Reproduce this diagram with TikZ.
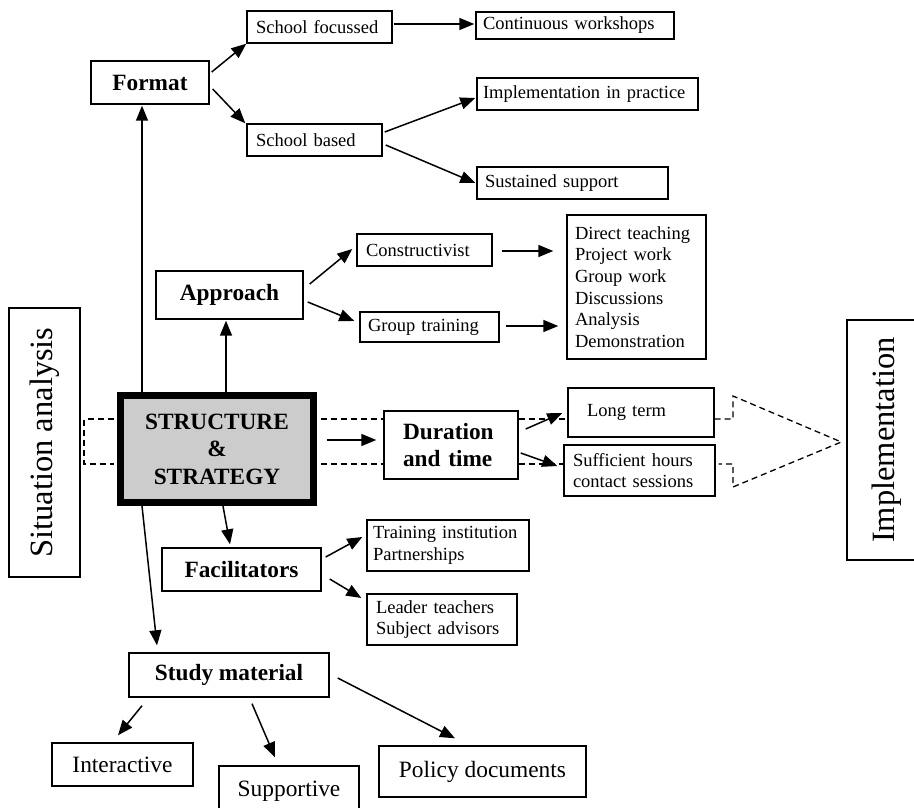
\documentclass[tikz,border=0pt]{standalone}
\usepackage{fontspec}
\setmainfont{Liberation Serif}
\usetikzlibrary{arrows.meta,calc}
\begin{document}
\begin{tikzpicture}[x=1pt,y=-1pt,
 box/.style={draw, line width=1.4pt, inner sep=0pt, rectangle},
 sm/.style={font=\fontsize{18.5}{21.6}\selectfont, align=left},
 bd/.style={font=\fontsize{23.3}{26.5}\selectfont\bfseries, align=center},
 lg/.style={font=\fontsize{23.4}{27}\selectfont, align=center},
 side/.style={font=\fontsize{32.5}{36}\selectfont, rotate=90},
 arr/.style={line width=1.5pt, -{Triangle[length=15pt,width=12pt]}},
 dsh/.style={line width=1.3pt, dash pattern=on 6pt off 4pt}]
\useasboundingbox (0,0) rectangle (914,808);

% Format branch
\node[box, bd, minimum width=118pt, minimum height=43pt] (fmt) at (150,82.5) {Format};
\node[box, sm, text width=127pt, inner xsep=9pt, minimum height=32pt] (sf) at (319.5,27) {School focussed};
\node[box, sm, text width=117pt, inner xsep=9pt, minimum height=32pt] (sb) at (314.5,140) {School based};
\node[box, sm, text width=184pt, inner xsep=7pt, minimum height=27pt] (cw) at (575,25.5) {Continuous workshops};
\node[box, sm, text width=209pt, inner xsep=6pt, minimum height=32pt] (iip) at (587.5,94) {Implementation in practice};
\node[box, sm, text width=175pt, inner xsep=8pt, minimum height=32pt] (sus) at (572.5,183) {Sustained support};

% Approach branch
\node[box, bd, minimum width=147pt, minimum height=48pt] (app) at (229.5,295) {Approach};
\node[box, sm, text width=117pt, inner xsep=9pt, minimum height=32pt] (con) at (424.5,250) {Constructivist};
\node[box, sm, text width=123pt, inner xsep=8pt, minimum height=30pt] (gt) at (429.5,327) {Group training};
\node[box, sm, text width=123pt, inner xsep=8pt, minimum height=144pt] (lst) at (636.5,287)
  {Direct teaching\\Project work\\Group work\\Discussions\\Analysis\\Demonstration};

% Centre
\node[box, line width=7pt, fill=black!20, font=\fontsize{23.3}{27.5}\selectfont\bfseries, align=center,
  minimum width=193pt, minimum height=107pt] (ss) at (217,449) {STRUCTURE\\\&\\STRATEGY};

% Side boxes
\node[box, side, minimum width=269pt, minimum height=71pt] (sit) at (44.5,442.5) {Situation analysis};
\node[box, side, minimum width=240pt, minimum height=79pt] (imp) at (886.5,440) {Implementation};

% Duration branch
\node[box, font=\fontsize{23.3}{26.5}\selectfont\bfseries, align=left, text width=96pt, inner xsep=19pt,
  minimum height=68pt] (dur) at (451,445) {Duration\\and time};
\node[box, sm, text width=108pt, inner xsep=19pt, minimum height=49pt] (lt) at (641,412.5) {Long term};
\node[box, sm, text width=133pt, inner xsep=9pt, minimum height=51pt] (suf) at (639.5,470.5)
  {Sufficient hours\\contact sessions};

% Facilitators branch
\node[box, bd, minimum width=159pt, minimum height=43pt] (fac) at (241.5,569.5) {Facilitators};
\node[box, sm, text width=150pt, inner xsep=6pt, minimum height=51pt] (tr) at (448,545.5)
  {Training institution\\Partnerships};
\node[box, sm, text width=132pt, inner xsep=9pt, minimum height=51pt] (ld) at (442,619.5)
  {Leader teachers\\Subject advisors};

% Study material branch
\node[box, bd, minimum width=200pt, minimum height=44pt] (stm) at (229,675) {Study material};
\node[box, lg, minimum width=141pt, minimum height=43pt] (int) at (122.5,764.5) {Interactive};
\node[box, lg, minimum width=140pt, minimum height=50pt] (sup) at (289,791) {Supportive};
\node[box, lg, minimum width=207pt, minimum height=51pt] (pol) at (482.5,771.5) {Policy documents};

% Arrows
\draw[arr] ($(ss.north)+(-75,0)$) -- ($(fmt.south)+(-8,1)$);
\draw[arr] ($(fmt.east)+(2,-10.5)$) -- (sf.south west);
\draw[arr] ($(fmt.east)+(3,6.5)$) -- ($(sb.north west)+(-1,0)$);
\draw[arr] ($(sf.east)+(1,-3)$) -- ($(cw.west)+(-1,-1.5)$);
\draw[arr] ($(sb.east)+(2,-8)$) -- ($(iip.west)+(-1,4)$);
\draw[arr] ($(sb.east)+(3,5)$) -- ($(sus.west)+(-1,0)$);

\draw[arr] ($(ss.north)+(9,0)$) -- ($(app.south)+(-3.5,1)$);
\draw[arr] ($(app.east)+(6,-11)$) -- ($(con.west)+(-4,-1)$);
\draw[arr] ($(app.east)+(4,7)$) -- ($(gt.west)+(-5,-6)$);
\draw[arr] ($(con.east)+(9,1)$) -- ($(lst.west)+(-13,-36)$);
\draw[arr] ($(gt.east)+(6,-1)$) -- ($(lst.west)+(-8,39)$);

\draw[arr] ($(ss.east)+(9.5,-9)$) -- ($(dur.west)+(-7,-5)$);
\draw[arr] ($(dur.east)+(7,-16)$) -- ($(lt.west)+(-5,0.5)$);
\draw[arr] ($(dur.east)+(2,8)$) -- ($(suf.west)+(-6,-4.5)$);

\draw[arr] ($(ss.south)+(6,0)$) -- ($(fac.north)+(-11.5,-3)$);
\draw[arr] ($(fac.east)+(4,-12.5)$) -- ($(tr.west)+(-4,-8.5)$);
\draw[arr] ($(fac.east)+(8,9.5)$) -- ($(ld.west)+(-5,-21.5)$);

\draw[arr] ($(ss.south)+(-75,0)$) -- ($(stm.north)+(-72,-7)$);
\draw[arr] ($(stm.south)+(-87,8)$) -- ($(int.north)+(-4.5,-7)$);
\draw[arr] ($(stm.south)+(23,6)$) -- ($(sup.north)+(-14,-8)$);
\draw[arr] ($(stm.east)+(8,3)$) -- ($(pol.north)+(-27.5,-7)$);

% Dashed band
\coordinate (dl1) at (84,419);
\coordinate (dl2) at (84,464);
\coordinate (dr1) at (733,419);
\coordinate (dr2) at (733,396);
\coordinate (dr3) at (733,487);
\coordinate (dr4) at (733,464);
\draw[dsh] ($(ss.west)+(-3.5,-30)$) -- (dl1) -- (dl2) -- ($(ss.west)+(-3.5,15)$);
\draw[dsh] ($(ss.east)+(3.5,-30)$) -- ($(dur.west)+(0,-26)$);
\draw[dsh] ($(ss.east)+(3.5,15)$) -- ($(dur.west)+(0,19)$);
\draw[dsh] ($(dur.east)+(0,-26)$) -- ($(lt.west)+(0,6.5)$);
\draw[dsh] ($(dur.east)+(0,19)$) -- ($(suf.west)+(0,-6.5)$);
\draw[dsh] ($(lt.east)+(0,6.5)$) -- (dr1) -- (dr2) -- ($(imp.north)+(-5,2)$) -- (dr3) -- (dr4) -- ($(suf.east)+(3,-6.5)$);
\end{tikzpicture}
\end{document}
